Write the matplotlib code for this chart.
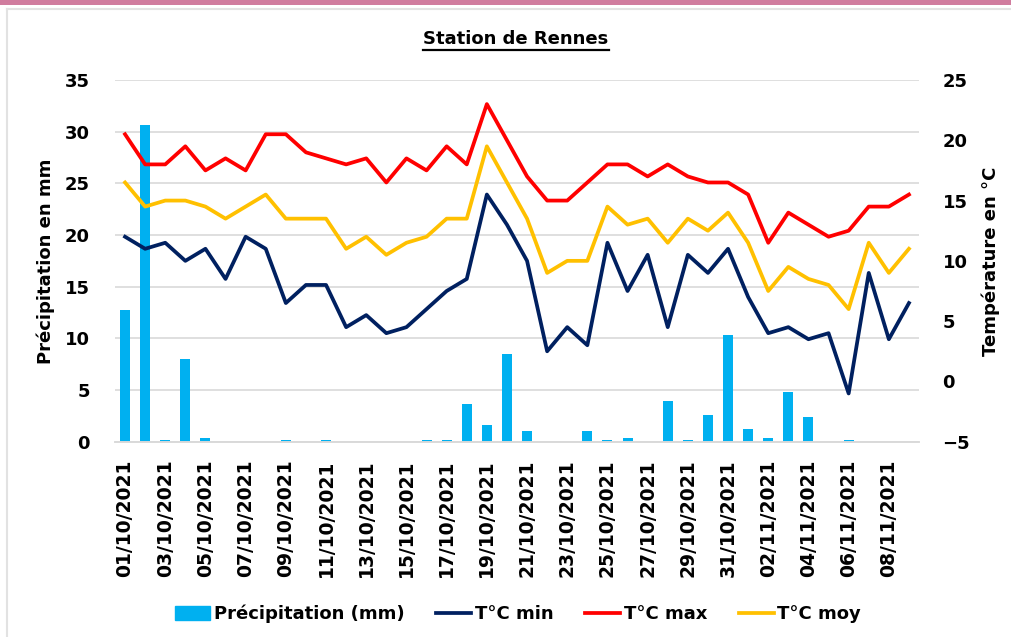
import matplotlib
matplotlib.use("Agg")
import matplotlib.pyplot as plt
import matplotlib.patches as mpatches
from matplotlib.lines import Line2D
import pandas as pd
import numpy as np

# ---------------- data ----------------
dates = [d.strftime("%d/%m/%Y") for d in pd.date_range("2021-10-01", "2021-11-09", freq="D")]
precip = [12.7, 30.6, 0.2, 8.0, 0.4, 0, 0, 0, 0.2, 0, 0.2, 0, 0, 0, 0, 0.2, 0.2, 3.6, 1.6, 8.5,
          1.0, 0, 0, 1.0, 0.2, 0.4, 0, 3.9, 0.2, 2.6, 10.3, 1.2, 0.4, 4.8, 2.4, 0, 0.2, 0, 0, 0]
tmin = [12.0, 11.0, 11.5, 10.0, 11.0, 8.5, 12.0, 11.0, 6.5, 8.0, 8.0, 4.5, 5.5, 4.0, 4.5, 6.0, 7.5, 8.5, 15.5, 13.0,
        10.0, 2.5, 4.5, 3.0, 11.5, 7.5, 10.5, 4.5, 10.5, 9.0, 11.0, 7.0, 4.0, 4.5, 3.5, 4.0, -1.0, 9.0, 3.5, 6.5]
tmax = [20.5, 18.0, 18.0, 19.5, 17.5, 18.5, 17.5, 20.5, 20.5, 19.0, 18.5, 18.0, 18.5, 16.5, 18.5, 17.5, 19.5, 18.0, 23.0, 20.0,
        17.0, 15.0, 15.0, 16.5, 18.0, 18.0, 17.0, 18.0, 17.0, 16.5, 16.5, 15.5, 11.5, 14.0, 13.0, 12.0, 12.5, 14.5, 14.5, 15.5]
tmoy = [16.5, 14.5, 15.0, 15.0, 14.5, 13.5, 14.5, 15.5, 13.5, 13.5, 13.5, 11.0, 12.0, 10.5, 11.5, 12.0, 13.5, 13.5, 19.5, 16.5,
        13.5, 9.0, 10.0, 10.0, 14.5, 13.0, 13.5, 11.5, 13.5, 12.5, 14.0, 11.5, 7.5, 9.5, 8.5, 8.0, 6.0, 11.5, 9.0, 11.0]
left_ticks = [0, 5, 10, 15, 20, 25, 30, 35]
right_ticks = [-5, 0, 5, 10, 15, 20, 25]

title = "Station de Rennes"
series_names = ["Précipitation (mm)", "T°C min", "T°C max", "T°C moy"]
colors = ["#00B0F0", "#002060", "#FF0000", "#FFC000"]

# ---------------- figure ----------------
plt.rcParams['font.family'] = ['DejaVu Sans']
W, H = 1011, 637
fig = plt.figure(figsize=(W / 100, H / 100), dpi=100)
fig.patch.set_facecolor("white")

# decorative frame (pink band + light grey border)
fig.add_artist(mpatches.Rectangle((0, 1 - 5 / H), 1, 5 / H, transform=fig.transFigure,
                                  color="#D07C9E", lw=0))
fig.add_artist(Line2D([7 / W, 7 / W], [0, 1 - 8.5 / H], transform=fig.transFigure,
                      color="#E2E2E2", lw=1.5))
fig.add_artist(Line2D([7 / W, 1], [1 - 8.5 / H, 1 - 8.5 / H], transform=fig.transFigure,
                      color="#E2E2E2", lw=1.5))

x0, x1, ytop, ybot = 115, 919, 80, 441.7
ax = fig.add_axes([x0 / W, 1 - ybot / H, (x1 - x0) / W, (ybot - ytop) / H])
ax2 = ax.twinx()

x = np.arange(len(dates))
ax.bar(x, precip, width=0.5, color=colors[0], zorder=2)
ax.set_ylim(0, 35)
ax.set_yticks(left_ticks)
ax.set_xlim(-0.5, len(dates) - 0.5)
ax.set_xticks(x[::2])
ax.set_xticklabels(dates[::2], rotation=90, fontsize=13.5, fontweight="bold")
ax.grid(axis="y", color="#D9D9D9", lw=1.2, zorder=0)
ax.set_axisbelow(True)

ax2.plot(x, tmin, color=colors[1], lw=2.7, solid_joinstyle="round")
ax2.plot(x, tmax, color=colors[2], lw=2.7, solid_joinstyle="round")
ax2.plot(x, tmoy, color=colors[3], lw=2.7, solid_joinstyle="round")
ax2.set_ylim(-5, 25)
ax2.set_yticks(right_ticks)

for a in (ax, ax2):
    for s in ("left", "right", "top"):
        a.spines[s].set_visible(False)
    a.spines["bottom"].set_color("#D9D9D9")
    a.spines["bottom"].set_linewidth(1.2)

ax.tick_params(axis="y", length=0, pad=18, labelsize=13)
ax.tick_params(axis="x", length=0, pad=13)
ax2.tick_params(axis="y", length=0, pad=17, labelsize=13)
for lab in ax.get_yticklabels() + ax2.get_yticklabels():
    lab.set_fontweight("bold")

ax.set_ylabel("Précipitation en mm", fontsize=13, fontweight="bold")
ax.yaxis.set_label_coords((55 - x0) / (x1 - x0), 0.5)
ax2.set_ylabel("Température en °C", fontsize=13, fontweight="bold", rotation=90)
ax2.yaxis.set_label_coords((982 - x0) / (x1 - x0), 0.5)

# title with underline
t = fig.text(516 / W, 1 - 39 / H, title, ha="center", va="center", fontsize=13, fontweight="bold")

# legend
handles = [mpatches.Patch(color=colors[0]),
           Line2D([], [], color=colors[1], lw=2.7),
           Line2D([], [], color=colors[2], lw=2.7),
           Line2D([], [], color=colors[3], lw=2.7)]
leg = fig.legend(handles, series_names, loc="center", bbox_to_anchor=(518 / W, 1 - 614 / H),
                 ncol=4, frameon=False, prop={"size": 13, "weight": "bold"},
                 handlelength=1.95, handleheight=0.8, handletextpad=0.2, columnspacing=1.75)

fig.canvas.draw()
bb = t.get_window_extent(renderer=fig.canvas.get_renderer())
uy = (bb.y0 - 2) / H
fig.add_artist(Line2D([bb.x0 / W, bb.x1 / W], [uy, uy], transform=fig.transFigure,
                      color="black", lw=1.6))

fig.savefig("out.png", dpi=100)
